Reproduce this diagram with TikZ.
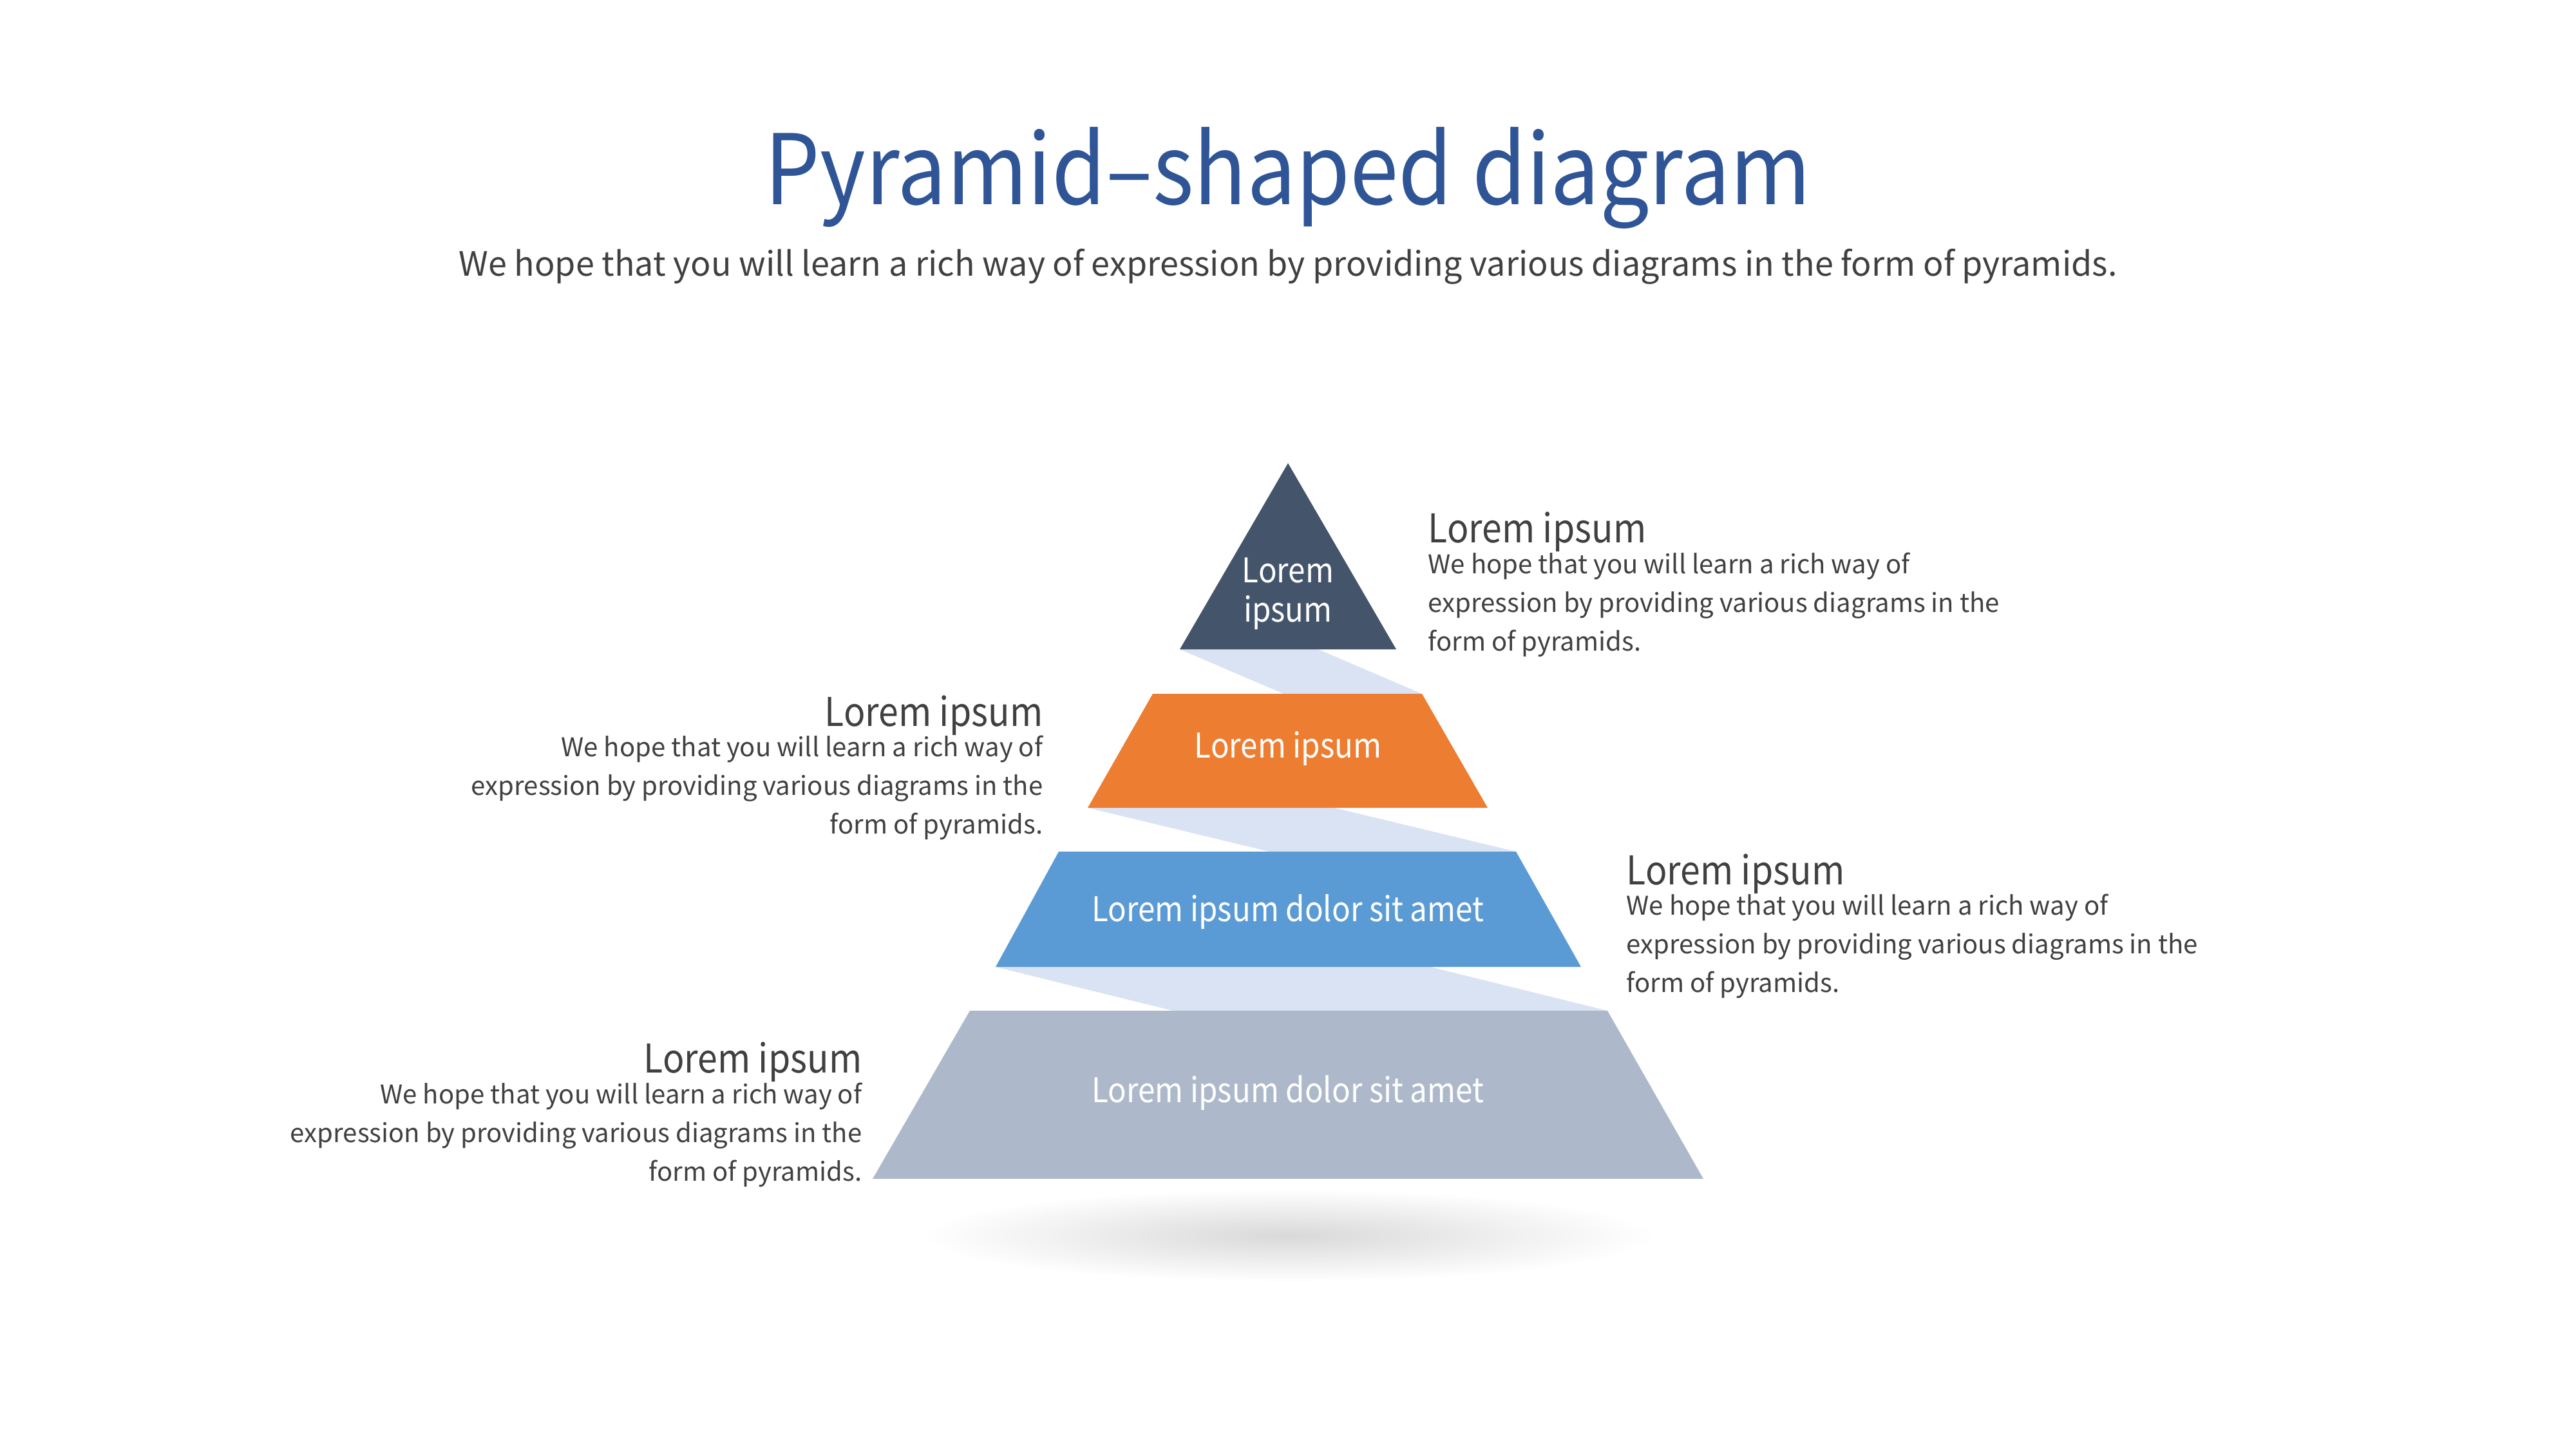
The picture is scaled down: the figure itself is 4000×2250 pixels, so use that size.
\documentclass[tikz,border=0pt]{standalone}
\usepackage{fontspec}
\setmainfont{Noto Sans CJK KR}
\newfontfamily\narrowfont[FakeStretch=0.9]{Noto Sans CJK KR}
\definecolor{titleblue}{HTML}{2F5597}
\definecolor{textgray}{HTML}{404040}
\definecolor{navy}{HTML}{44546A}
\definecolor{layerorange}{HTML}{ED7D31}
\definecolor{layerblue}{HTML}{5B9BD5}
\definecolor{layergray}{HTML}{ADB9CA}
\definecolor{bandblue}{HTML}{DAE3F3}
\begin{document}
\begin{tikzpicture}[x=0.01cm,y=-0.01cm,
  every node/.style={inner sep=0pt},
  maintitle/.style={font=\narrowfont\fontsize{42.9}{50}\selectfont,text=titleblue},
  subtitle/.style={font=\fontsize{14.8}{18}\selectfont,text=textgray},
  head/.style={font=\narrowfont\fontsize{17.5}{22}\selectfont,text=textgray},
  body/.style={font=\fontsize{11.4}{17}\selectfont,text=textgray},
  layertext/.style={font=\narrowfont\fontsize{15}{17.3}\selectfont,text=white,align=center},
  band/.style={fill=bandblue}]
\useasboundingbox (0,0) rectangle (4000,2250);

\node[maintitle,anchor=base] (title) at (2000,317) {Pyramid–shaped diagram};
\node[subtitle,anchor=base] (subtitle) at (2000,428) {We hope that you will learn a rich way of expression by providing various diagrams in the form of pyramids.};

\coordinate (tri-top) at (2000,719);
\coordinate (tri-bl) at (1832,1008);
\coordinate (tri-br) at (2168,1008);
\coordinate (org-tl) at (1790,1077);
\coordinate (org-tr) at (2208,1077);
\coordinate (org-bl) at (1689,1254);
\coordinate (org-br) at (2310,1254);
\coordinate (blu-tl) at (1644,1322);
\coordinate (blu-tr) at (2354,1322);
\coordinate (blu-bl) at (1546,1501);
\coordinate (blu-br) at (2455,1501);
\coordinate (gry-tl) at (1506,1569);
\coordinate (gry-tr) at (2496,1569);
\coordinate (gry-bl) at (1355,1830);
\coordinate (gry-br) at (2645,1830);

\shade[inner color=black!15,outer color=white] (2000,1918) ellipse [x radius=570,y radius=72];

\fill[band] (tri-bl) -- ++(215,0) -- (org-tr) -- ++(-215,0) -- cycle;
\fill[band] (org-bl) -- ++(383,0) -- (blu-tr) -- ++(-383,0) -- cycle;
\fill[band] (blu-bl) -- ++(675,0) -- (gry-tr) -- ++(-675,0) -- cycle;

\fill[navy] (tri-top) -- (tri-br) -- (tri-bl) -- cycle;
\fill[layerorange] (org-tl) -- (org-tr) -- (org-br) -- (org-bl) -- cycle;
\fill[layerblue] (blu-tl) -- (blu-tr) -- (blu-br) -- (blu-bl) -- cycle;
\fill[layergray] (gry-tl) -- (gry-tr) -- (gry-br) -- (gry-bl) -- cycle;

\node[layertext,anchor=base] (tri-text) at (2000,965) {Lorem\\ipsum};
\node[layertext,anchor=base] (org-text) at (2000,1176) {Lorem ipsum};
\node[layertext,anchor=base] (blu-text) at (2000,1430) {Lorem ipsum dolor sit amet};
\node[layertext,anchor=base] (gry-text) at (2000,1711) {Lorem ipsum dolor sit amet};

\node[head,anchor=base west] (head1) at (2217,842) {Lorem ipsum};
\node[body,anchor=base west,align=left] (body1) at (2217,1010) {We hope that you will learn a rich way of\\expression by providing various diagrams in the\\form of pyramids.};
\node[head,anchor=base east] (head2) at (1620,1127) {Lorem ipsum};
\node[body,anchor=base east,align=right] (body2) at (1620,1294) {We hope that you will learn a rich way of\\expression by providing various diagrams in the\\form of pyramids.};
\node[head,anchor=base west] (head3) at (2525,1373) {Lorem ipsum};
\node[body,anchor=base west,align=left] (body3) at (2525,1540) {We hope that you will learn a rich way of\\expression by providing various diagrams in the\\form of pyramids.};
\node[head,anchor=base east] (head4) at (1339,1665) {Lorem ipsum};
\node[body,anchor=base east,align=right] (body4) at (1339,1833) {We hope that you will learn a rich way of\\expression by providing various diagrams in the\\form of pyramids.};
\end{tikzpicture}
\end{document}
